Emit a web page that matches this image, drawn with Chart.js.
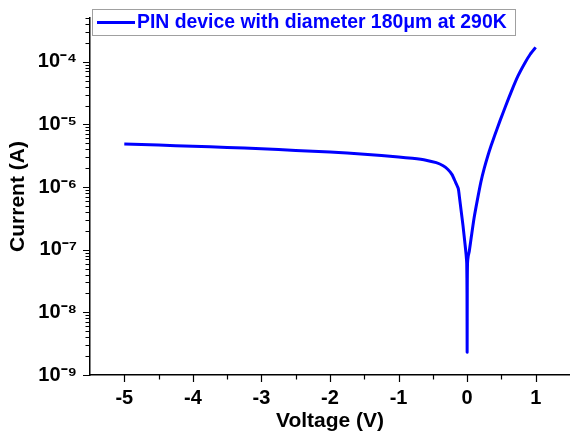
<!DOCTYPE html>
<html><head><meta charset="utf-8">
<script src="https://cdn.jsdelivr.net/npm/chart.js@4"></script>
<style>html,body{margin:0;padding:0;background:#fff}</style></head>
<body>
<canvas id="c" width="570" height="439"></canvas>
<script>
const seriesLabel = 'PIN device with diameter 180\u03bcm at 290K';
const voltage = [-5.0,-4.5,-4.0,-3.5,-3.0,-2.5,-2.0,-1.5,-1.0,-0.8,-0.6,-0.45,-0.35,-0.28,-0.22,-0.17,-0.13,-0.11,-0.09,-0.06,-0.03,-0.015,-0.006,-0.002,0.0,0.002,0.006,0.015,0.03,0.06,0.10,0.15,0.20,0.25,0.30,0.35,0.40,0.48,0.56,0.65,0.74,0.84,0.92,1.0];
const current = [4.87e-6,4.68e-6,4.48e-6,4.3e-6,4.1e-6,3.85e-6,3.62e-6,3.35e-6,3.03e-6,2.88e-6,2.69e-6,2.45e-6,2.19e-6,1.91e-6,1.58e-6,1.2e-6,9.5e-7,6.6e-7,4.4e-7,2.4e-7,1.2e-7,8.3e-8,6.0e-8,2.0e-8,2.3e-9,2.5e-8,6.2e-8,7.8e-8,9.3e-8,1.58e-7,3.16e-7,6.3e-7,1.2e-6,2.0e-6,3.1e-6,4.6e-6,6.6e-6,1.15e-5,1.95e-5,3.47e-5,5.9e-5,9.5e-5,1.32e-4,1.7e-4];
const xMajorTicks = [-5,-4,-3,-2,-1,0,1];
const xMinorTicks = [-4.5,-3.5,-2.5,-1.5,-0.5,0.5];
const yDecadeExponents = [-9,-8,-7,-6,-5,-4];
const xRange = [-5.5, 1.5];
const yRange = [1e-9, 5e-4];

const SUP = {'-':'\u207b','0':'\u2070','1':'\u00b9','2':'\u00b2','3':'\u00b3','4':'\u2074','5':'\u2075','6':'\u2076','7':'\u2077','8':'\u2078','9':'\u2079'};
const sup = s => String(s).split('').map(c => SUP[c]).join('');

const yTickValues = [];
for (const e of yDecadeExponents.concat([-3])) {
  for (let m = 1; m <= 9; m++) {
    const v = m * Math.pow(10, e);
    if (v >= yRange[0] * 0.999 && v <= yRange[1] * 1.001) yTickValues.push(v);
  }
}
const isMajor = v => Math.abs(Math.log10(v) - Math.round(Math.log10(v))) < 1e-6;

const FONT = "'Liberation Sans', Arial, sans-serif";
const BLUE = '#0000ff';

const tickMarks = {
  id: 'tickMarks',
  afterDraw(chart) {
    const ctx = chart.ctx;
    const xs = chart.scales.x, ys = chart.scales.y;
    const area = chart.chartArea;
    ctx.save();
    ctx.strokeStyle = '#000';
    ctx.lineWidth = 1.2;
    ctx.beginPath();
    for (const v of yTickValues) {
      const py = Math.round(ys.getPixelForValue(v)) + 0.5;
      const len = isMajor(v) ? 7 : 4.5;
      ctx.moveTo(area.left, py); ctx.lineTo(area.left - len, py);
    }
    for (const v of xMajorTicks) {
      const px = Math.round(xs.getPixelForValue(v)) + 0.5;
      ctx.moveTo(px, area.bottom); ctx.lineTo(px, area.bottom + 7);
    }
    for (const v of xMinorTicks) {
      const px = Math.round(xs.getPixelForValue(v)) + 0.5;
      ctx.moveTo(px, area.bottom); ctx.lineTo(px, area.bottom + 4.5);
    }
    ctx.stroke();
    // legend
    const ds = chart.data.datasets[0];
    ctx.strokeStyle = '#a0a0a0';
    ctx.lineWidth = 1;
    ctx.strokeRect(92.5, 9.5, 423, 26);
    ctx.strokeStyle = ds.borderColor;
    ctx.lineWidth = 3;
    ctx.beginPath(); ctx.moveTo(97, 22.5); ctx.lineTo(135, 22.5); ctx.stroke();
    ctx.fillStyle = ds.borderColor;
    ctx.font = "bold 19.4px " + FONT;
    ctx.textBaseline = 'middle';
    ctx.textAlign = 'left';
    ctx.fillText(ds.label, 137, 23);
    ctx.restore();
  }
};

new Chart(document.getElementById('c'), {
  type: 'scatter',
  data: {
    datasets: [{
      label: seriesLabel,
      data: voltage.map((v, i) => ({x: v, y: current[i]})),
      showLine: true,
      borderColor: BLUE,
      backgroundColor: BLUE,
      borderWidth: 3,
      pointRadius: 0,
      tension: 0.2
    }]
  },
  options: {
    responsive: false,
    animation: false,
    layout: {padding: {top: 16, left: 0, right: 0, bottom: 0}},
    plugins: {legend: {display: false}, tooltip: {enabled: false}},
    scales: {
      x: {
        type: 'linear',
        min: xRange[0], max: xRange[1],
        afterBuildTicks: s => { s.ticks = xMajorTicks.map(v => ({value: v})); },
        afterFit: s => { s.height = 64; },
        grid: {display: true, drawOnChartArea: false, drawTicks: true, tickLength: 7, color: 'rgba(0,0,0,0)'},
        border: {display: true, color: '#000', width: 1.5},
        ticks: {color: '#000', font: {family: FONT, size: 20, weight: 'bold'}, padding: 4, maxRotation: 0, autoSkip: false,
          callback: v => String(v)},
        title: {display: true, text: 'Voltage (V)', color: '#000', font: {family: FONT, size: 21, weight: 'bold'}, padding: {top: 0, bottom: 5}}
      },
      y: {
        type: 'logarithmic',
        min: yRange[0], max: yRange[1],
        afterBuildTicks: s => { s.ticks = yTickValues.map(v => ({value: v, major: isMajor(v)})); },
        afterFit: s => { s.width = 90; },
        grid: {display: true, drawOnChartArea: false, drawTicks: true, tickLength: 7, color: 'rgba(0,0,0,0)'},
        border: {display: true, color: '#000', width: 1.5},
        ticks: {color: '#000', font: {family: FONT, size: 20, weight: 'bold'}, padding: 6, autoSkip: false,
          callback: v => isMajor(v) ? '10' + sup(Math.round(Math.log10(v))) : ''},
        title: {display: true, text: 'Current (A)', color: '#000', font: {family: FONT, size: 21, weight: 'bold'}, padding: {top: 6, bottom: 0}}
      }
    }
  },
  plugins: [tickMarks]
});
</script>
</body></html>
